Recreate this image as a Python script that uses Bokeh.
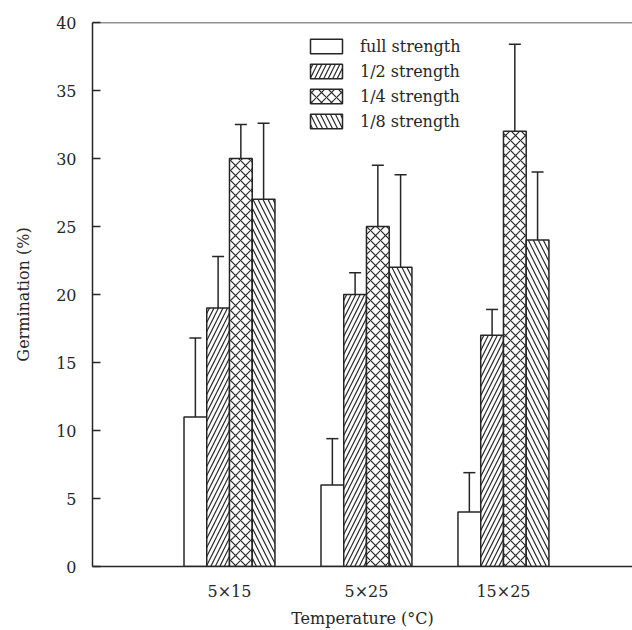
from bokeh.plotting import figure
from bokeh.models import (Range1d, FixedTicker, ColumnDataSource, Whisker, TeeHead,
                          Legend, LegendItem, Span)
from bokeh.embed import file_html
from bokeh.resources import INLINE

# ---- data ----
categories = ["5×15", "5×25", "15×25"]
series = ["full strength", "1/2 strength", "1/4 strength", "1/8 strength"]
full_strength = [11, 6, 4]
half_strength = [19, 20, 17]
quarter_strength = [30, 25, 32]
eighth_strength = [27, 22, 24]
full_err = [5.8, 3.4, 2.9]
half_err = [3.8, 1.6, 1.9]
quarter_err = [2.5, 4.5, 6.4]
eighth_err = [5.6, 6.8, 5.0]
y_ticks = [0, 5, 10, 15, 20, 25, 30, 35, 40]

values = [full_strength, half_strength, quarter_strength, eighth_strength]
errors = [full_err, half_err, quarter_err, eighth_err]
hatches = [" ", "/", "x", "\\"]
hatch_scales = [8, 9, 10, 10]

FONT = "DejaVu Serif"
INK = "#262626"

p = figure(width=632, height=630, output_backend="svg", toolbar_location=None,
           x_range=Range1d(0, 3.942), y_range=Range1d(0, 40),
           min_border_left=92, min_border_right=0, min_border_top=22,
           min_border_bottom=64)
p.outline_line_color = None
p.xgrid.visible = False
p.ygrid.visible = False
p.background_fill_color = "white"
p.border_fill_color = "white"

bar_w = 0.166
items = []
for k, (name, vals, errs) in enumerate(zip(series, values, errors)):
    xs = [i + 1 + (k - 1.5) * bar_w for i in range(len(categories))]
    src = ColumnDataSource(dict(x=xs, top=vals, upper=[v + e for v, e in zip(vals, errs)]))
    r = p.vbar(x="x", top="top", bottom=0, width=bar_w, source=src,
               fill_color="white", line_color=INK, line_width=1.5,
               hatch_pattern=hatches[k], hatch_color=INK, hatch_weight=1.2,
               hatch_scale=hatch_scales[k])
    w = Whisker(source=src, base="x", lower="top", upper="upper",
                line_color=INK, line_width=1.5, lower_head=None,
                upper_head=TeeHead(size=12, line_color=INK, line_width=1.5))
    p.add_layout(w)
    items.append(LegendItem(label=name, renderers=[r]))

legend = Legend(items=items, location=(214, 435), glyph_width=40, glyph_height=18,
                label_height=20, spacing=5, padding=0, margin=0,
                border_line_alpha=0, background_fill_alpha=0, label_standoff=14,
                label_text_font=FONT, label_text_font_size="16px", label_text_color=INK)
p.add_layout(legend)

p.add_layout(Span(location=40, dimension="width", line_color=INK, line_width=1.5))

# axes
p.xaxis.ticker = FixedTicker(ticks=[1, 2, 3])
p.xaxis.major_label_overrides = {i + 1: c for i, c in enumerate(categories)}
p.xaxis.major_tick_in = 0
p.xaxis.major_tick_out = 0
p.xaxis.minor_tick_line_color = None
p.xaxis.major_label_standoff = 15
p.xaxis.axis_label = "Temperature (°C)"
p.xaxis.axis_label_standoff = 5

p.yaxis.ticker = FixedTicker(ticks=y_ticks)
p.yaxis.major_tick_in = 8
p.yaxis.major_tick_out = 0
p.yaxis.minor_tick_line_color = None
p.yaxis.major_label_standoff = 16
p.yaxis.axis_label = "Germination (%)"
p.yaxis.axis_label_standoff = 20

for ax in (p.xaxis, p.yaxis):
    ax.axis_line_color = INK
    ax.axis_line_width = 1.5
    ax.major_tick_line_color = INK
    ax.major_tick_line_width = 1.5
    ax.major_label_text_font = FONT
    ax.major_label_text_font_size = "16px"
    ax.major_label_text_color = INK
    ax.axis_label_text_font = FONT
    ax.axis_label_text_font_size = "16px"
    ax.axis_label_text_font_style = "normal"
    ax.axis_label_text_color = INK

open("out.html", "w").write(file_html(p, INLINE))
